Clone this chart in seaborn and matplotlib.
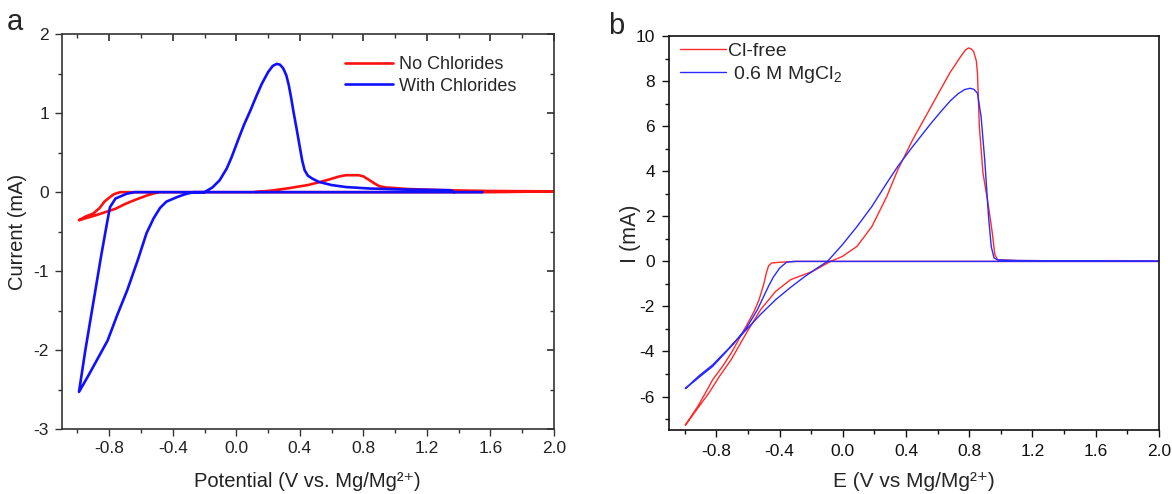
import numpy as np
import pandas as pd
import matplotlib
matplotlib.use("Agg")
import matplotlib.pyplot as plt
from matplotlib.ticker import MultipleLocator
import seaborn as sns

# ---------------- data: panel a ----------------
red_a_x = [-0.49, -0.56, -0.64, -0.70, -0.76, -0.82, -0.88, -0.94, -0.99, -0.95, -0.90, -0.86, -0.83,
           -0.80, -0.77, -0.73, -0.6, -0.2, 0.1, 0.21, 0.33, 0.45, 0.53, 0.60, 0.65, 0.69, 0.73, 0.77,
           0.80, 0.84, 0.87, 0.90, 0.94, 0.98, 1.08, 1.3, 1.6, 2.0, 1.6, 1.0, 0.5, 0.12]
red_a_y = [0.0, -0.04, -0.1, -0.15, -0.21, -0.25, -0.29, -0.325, -0.355, -0.31, -0.27, -0.2, -0.12,
           -0.07, -0.025, 0.0, 0.0, 0.0, 0.0, 0.017, 0.05, 0.09, 0.13, 0.17, 0.2, 0.215, 0.215, 0.215,
           0.2, 0.15, 0.11, 0.076, 0.06, 0.055, 0.04, 0.025, 0.015, 0.01, 0.0, 0.0, 0.0, 0.0]

blue_a_x = [1.55, 1.0, 0.5, 0.0, -0.27, -0.32, -0.37, -0.44, -0.48, -0.52, -0.565, -0.62, -0.686, -0.75,
            -0.81, -0.87, -0.93, -0.99, -0.95, -0.90, -0.85, -0.81, -0.795, -0.76, -0.69, -0.64, -0.4,
            -0.2, -0.15, -0.105, -0.06, -0.03, 0.015, 0.05, 0.09, 0.125, 0.16, 0.20, 0.23, 0.255, 0.275,
            0.295, 0.315, 0.33, 0.345, 0.36, 0.38, 0.40, 0.415, 0.43, 0.45, 0.48, 0.52, 0.60, 0.69, 0.84,
            1.06, 1.35, 1.37]
blue_a_y = [0.0, 0.0, 0.0, 0.0, 0.0, -0.025, -0.06, -0.12, -0.2, -0.33, -0.52, -0.86, -1.24, -1.56,
            -1.88, -2.1, -2.32, -2.53, -2.0, -1.4, -0.8, -0.35, -0.19, -0.08, -0.02, 0.0, 0.0,
            0.0, 0.06, 0.15, 0.3, 0.44, 0.68, 0.86, 1.04, 1.21, 1.37, 1.52, 1.6, 1.625, 1.615,
            1.57, 1.48, 1.36, 1.2, 1.02, 0.8, 0.57, 0.4, 0.28, 0.21, 0.17, 0.13, 0.09, 0.065, 0.046,
            0.034, 0.025, 0.0]

# ---------------- data: panel b ----------------
red_b_x = [2.0, 1.0, 0.0, -0.3, -0.38, -0.42, -0.45, -0.47, -0.484, -0.50, -0.53, -0.56, -0.59, -0.636,
           -0.706, -0.76, -0.823, -0.87, -0.917, -0.997, -0.92, -0.847, -0.78, -0.706, -0.61, -0.52,
           -0.425, -0.33, -0.19, -0.078, -0.003, 0.09, 0.184, 0.278, 0.348, 0.442, 0.559, 0.676, 0.746,
           0.775, 0.795, 0.81, 0.828, 0.845, 0.852, 0.864, 0.887, 0.922, 0.946, 0.962, 0.98, 1.1, 1.5, 2.0]
red_b_y = [0.0, 0.0, 0.0, 0.0, -0.03, -0.05, -0.07, -0.2, -0.52, -1.0, -1.7, -2.2, -2.6, -3.18,
           -4.07, -4.65, -5.25, -5.85, -6.43, -7.28, -6.54, -5.84, -5.1, -4.36, -3.18, -2.14,
           -1.33, -0.81, -0.44, 0.0, 0.22, 0.67, 1.55, 2.88, 4.07, 5.4, 6.88, 8.36, 9.1,
           9.38, 9.48, 9.45, 9.32, 8.9, 8.36, 5.99, 3.92, 2.44, 1.26, 0.30, 0.07, 0.04, 0.02, 0.01]

blue_b_x = [2.0, 1.0, 0.0, -0.3, -0.355, -0.40, -0.44, -0.47, -0.54, -0.61, -0.706, -0.823, -0.91,
            -0.997, -0.91, -0.823, -0.72, -0.61, -0.52, -0.425, -0.33, -0.24, -0.17, -0.097, -0.003,
            0.09, 0.184, 0.278, 0.348, 0.442, 0.559, 0.62, 0.68, 0.73, 0.77, 0.805, 0.83, 0.852, 0.875,
            0.898, 0.922, 0.939, 0.957, 0.98, 1.1, 1.5, 2.0]
blue_b_y = [0.0, 0.0, 0.0, 0.0, -0.03, -0.3, -0.7, -1.1, -2.14, -2.96, -3.77, -4.66, -5.15,
            -5.65, -5.08, -4.59, -3.85, -3.03, -2.35, -1.70, -1.15, -0.67, -0.33, 0.0, 0.74,
            1.55, 2.44, 3.48, 4.22, 5.1, 6.14, 6.65, 7.13, 7.45, 7.63, 7.69, 7.64, 7.47, 6.43,
            4.51, 2.0, 0.67, 0.15, 0.07, 0.04, 0.02, 0.01]

labels_a = ["No Chlorides", "With Chlorides"]
labels_b = ["Cl-free", " 0.6 M MgCl$_2$"]
xticks = [-0.8, -0.4, 0.0, 0.4, 0.8, 1.2, 1.6, 2.0]
yticks_a = [-3, -2, -1, 0, 1, 2]
yticks_b = [-6, -4, -2, 0, 2, 4, 6, 8, 10]

sns.set_theme(style="ticks")
plt.rcParams['font.family'] = ['Liberation Sans', 'DejaVu Sans']
plt.rcParams['mathtext.default'] = 'regular'

fig = plt.figure(figsize=(11.72, 4.94), dpi=100)
axa = fig.add_axes([0.0525, 0.1316, 0.4202, 0.799])
axb = fig.add_axes([0.5708, 0.129, 0.4180, 0.7976])

RED_A, BLUE_A = "#ff1010", "#1010ff"
RED_B, BLUE_B = "#ff2a2a", "#2a2aff"

dfa_r = pd.DataFrame({"x": red_a_x, "y": red_a_y})
dfa_b = pd.DataFrame({"x": blue_a_x, "y": blue_a_y})
sns.lineplot(data=dfa_r, x="x", y="y", sort=False, estimator=None, color=RED_A, lw=1.9,
             ax=axa, label=labels_a[0])
sns.lineplot(data=dfa_b, x="x", y="y", sort=False, estimator=None, color=BLUE_A, lw=1.9,
             ax=axa, label=labels_a[1])

dfb_r = pd.DataFrame({"x": red_b_x, "y": red_b_y})
dfb_b = pd.DataFrame({"x": blue_b_x, "y": blue_b_y})
sns.lineplot(data=dfb_r, x="x", y="y", sort=False, estimator=None, color=RED_B, lw=1.0,
             ax=axb, label=labels_b[0])
sns.lineplot(data=dfb_b, x="x", y="y", sort=False, estimator=None, color=BLUE_B, lw=1.0,
             ax=axb, label=labels_b[1])

# ---- panel a styling ----
axa.set_xlim(-1.1, 2.0)
axa.set_ylim(-3, 2)
axa.set_xticks(xticks)
axa.set_xticklabels([f"{t:.1f}" for t in xticks])
axa.set_yticks(yticks_a)
axa.set_yticklabels([str(t) for t in yticks_a])
axa.xaxis.set_minor_locator(MultipleLocator(0.2))
axa.yaxis.set_minor_locator(MultipleLocator(0.5))
axa.tick_params(which='major', direction='out', length=5, width=1.0, labelsize=12.5,
                colors='#333333', labelcolor='#222222', pad=4)
axa.tick_params(which='minor', direction='out', length=3, width=1.0, colors='#333333')
for sp in axa.spines.values():
    sp.set_visible(True)
    sp.set_linewidth(1.2)
    sp.set_color('#333333')
secx = axa.secondary_xaxis('top')
secx.set_xticks(xticks)
secx.xaxis.set_minor_locator(MultipleLocator(0.2))
secx.tick_params(which='both', direction='in', labeltop=False, colors='#333333')
secx.tick_params(which='major', length=5)
secx.tick_params(which='minor', length=3)
secx.spines['top'].set_visible(False)
secy = axa.secondary_yaxis('right')
secy.set_yticks(yticks_a)
secy.yaxis.set_minor_locator(MultipleLocator(0.5))
secy.tick_params(which='both', direction='in', labelright=False, colors='#333333')
secy.tick_params(which='major', length=5)
secy.tick_params(which='minor', length=3)
secy.spines['right'].set_visible(False)
axa.set_xlabel("Potential (V vs. Mg/Mg²⁺)", fontsize=14.5, color='#222222')
axa.set_ylabel("Current (mA)", fontsize=14.5, color='#222222')
axa.xaxis.set_label_coords(0.50, -0.108)
axa.yaxis.set_label_coords(-0.07, 0.5)
axa.legend(loc='upper left', bbox_to_anchor=(0.575, 0.945), frameon=False, fontsize=13,
           handlelength=2.7, handletextpad=0.3, labelspacing=0.25, borderaxespad=0, borderpad=0)

# ---- panel b styling ----
axb.set_xlim(-1.1, 2.0)
axb.set_ylim(-7.5, 10)
axb.set_xticks(xticks)
axb.set_xticklabels([f"{t:.1f}" for t in xticks])
axb.set_yticks(yticks_b)
axb.set_yticklabels([str(t) for t in yticks_b])
axb.xaxis.set_minor_locator(MultipleLocator(0.2))
axb.yaxis.set_minor_locator(MultipleLocator(1))
axb.tick_params(which='major', direction='out', length=5, width=1.0, labelsize=12.5,
                colors='#111111', pad=5)
axb.tick_params(which='minor', direction='out', length=3, width=1.0, colors='#111111')
for sp in axb.spines.values():
    sp.set_visible(True)
    sp.set_linewidth(1.2)
    sp.set_color('#111111')
axb.set_xlabel("E (V vs Mg/Mg²⁺)", fontsize=15)
axb.set_ylabel("I (mA)", fontsize=15.5)
axb.xaxis.set_label_coords(0.50, -0.105)
axb.yaxis.set_label_coords(-0.058, 0.5)
axb.legend(loc='upper left', bbox_to_anchor=(0.022, 0.985), frameon=False, fontsize=14,
           handlelength=2.4, handletextpad=0.1, labelspacing=0.2, borderaxespad=0, borderpad=0)

fig.text(15 / 1172, 1 - 22 / 494, "a", fontsize=21, ha='center', va='center')
fig.text(616 / 1172, 1 - 26 / 494, "b", fontsize=21, ha='center', va='center')

fig.savefig("out.png", dpi=100)
